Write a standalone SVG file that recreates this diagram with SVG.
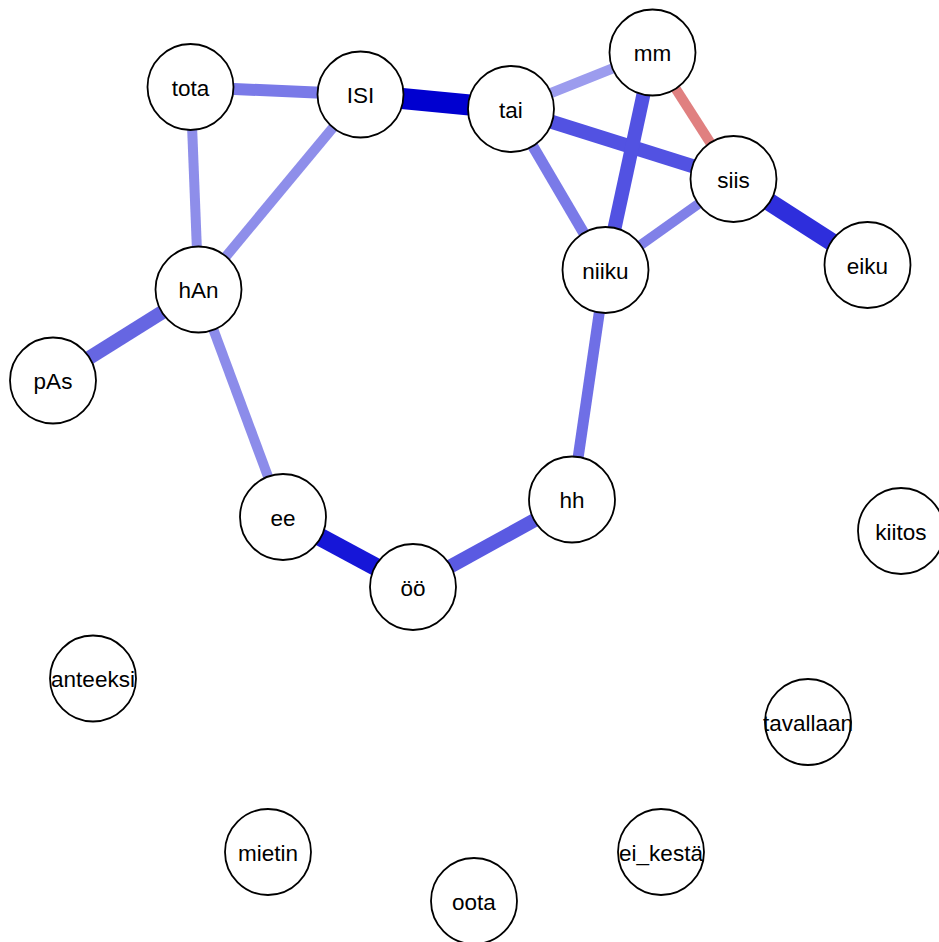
<svg xmlns="http://www.w3.org/2000/svg" width="939" height="942" viewBox="0 0 939 942">
  <style>
    .edge { fill: none; stroke-linecap: butt; }
    .node circle { fill: #ffffff; stroke: #000000; stroke-width: 1.8; }
    .node text { font-family: "Liberation Sans", Arial, sans-serif; font-size: 22.5px; fill: #000000; text-anchor: middle; dominant-baseline: central; }
  </style>
  <rect width="939" height="942" fill="#ffffff"/>
  <g id="edges">
    <line class="edge" x1="190.5" y1="87" x2="360.5" y2="94.5" stroke="#7a7ae8" stroke-width="12"/>
    <line class="edge" x1="190.5" y1="87" x2="198.5" y2="289.5" stroke="#8e8eea" stroke-width="10"/>
    <line class="edge" x1="360.5" y1="94.5" x2="198.5" y2="289.5" stroke="#8e8eea" stroke-width="10"/>
    <line class="edge" x1="360.5" y1="94.5" x2="511" y2="109" stroke="#0000d0" stroke-width="21"/>
    <line class="edge" x1="511" y1="109" x2="652.5" y2="52.5" stroke="#9c9cee" stroke-width="10"/>
    <line class="edge" x1="511" y1="109" x2="733.5" y2="179" stroke="#5252e2" stroke-width="14"/>
    <line class="edge" x1="511" y1="109" x2="605.5" y2="270" stroke="#7a7ae8" stroke-width="11"/>
    <line class="edge" x1="652.5" y1="52.5" x2="605.5" y2="270" stroke="#5252e2" stroke-width="14"/>
    <line class="edge" x1="652.5" y1="52.5" x2="733.5" y2="179" stroke="#e08080" stroke-width="10"/>
    <line class="edge" x1="733.5" y1="179" x2="605.5" y2="270" stroke="#8080e8" stroke-width="10"/>
    <line class="edge" x1="733.5" y1="179" x2="867.5" y2="265" stroke="#2e2edc" stroke-width="18"/>
    <line class="edge" x1="198.5" y1="289.5" x2="53" y2="380.5" stroke="#6666e2" stroke-width="14"/>
    <line class="edge" x1="198.5" y1="289.5" x2="283" y2="517" stroke="#8c8cea" stroke-width="10"/>
    <line class="edge" x1="605.5" y1="270" x2="572" y2="499.5" stroke="#6f6fe6" stroke-width="11"/>
    <line class="edge" x1="283" y1="517" x2="413" y2="587" stroke="#1616d8" stroke-width="18"/>
    <line class="edge" x1="413" y1="587" x2="572" y2="499.5" stroke="#5a5ae2" stroke-width="14"/>
  </g>
  <g id="node-tota" class="node"><circle cx="190.5" cy="87" r="43"/><text x="190.5" y="88">tota</text></g>
  <g id="node-ISI" class="node"><circle cx="360.5" cy="94.5" r="43"/><text x="360.5" y="95.5">ISI</text></g>
  <g id="node-tai" class="node"><circle cx="511" cy="109" r="43"/><text x="511" y="110">tai</text></g>
  <g id="node-mm" class="node"><circle cx="652.5" cy="52.5" r="43"/><text x="652.5" y="53.5">mm</text></g>
  <g id="node-siis" class="node"><circle cx="733.5" cy="179" r="43"/><text x="733.5" y="180">siis</text></g>
  <g id="node-eiku" class="node"><circle cx="867.5" cy="265" r="43"/><text x="867.5" y="266">eiku</text></g>
  <g id="node-niiku" class="node"><circle cx="605.5" cy="270" r="43"/><text x="605.5" y="271">niiku</text></g>
  <g id="node-hAn" class="node"><circle cx="198.5" cy="289.5" r="43"/><text x="198.5" y="290.5">hAn</text></g>
  <g id="node-pAs" class="node"><circle cx="53" cy="380.5" r="43"/><text x="53" y="381.5">pAs</text></g>
  <g id="node-ee" class="node"><circle cx="283" cy="517" r="43"/><text x="283" y="518">ee</text></g>
  <g id="node-oo" class="node"><circle cx="413" cy="587" r="43"/><text x="413" y="588">öö</text></g>
  <g id="node-hh" class="node"><circle cx="572" cy="499.5" r="43"/><text x="572" y="500.5">hh</text></g>
  <g id="node-kiitos" class="node"><circle cx="901" cy="531" r="43"/><text x="901" y="532">kiitos</text></g>
  <g id="node-anteeksi" class="node"><circle cx="93" cy="678.5" r="43"/><text x="93" y="679.5">anteeksi</text></g>
  <g id="node-tavallaan" class="node"><circle cx="808" cy="722" r="43"/><text x="808" y="723">tavallaan</text></g>
  <g id="node-mietin" class="node"><circle cx="268" cy="852" r="43"/><text x="268" y="853">mietin</text></g>
  <g id="node-ei_kesta" class="node"><circle cx="661" cy="852" r="43"/><text x="661" y="853">ei_kestä</text></g>
  <g id="node-oota" class="node"><circle cx="474" cy="901" r="43"/><text x="474" y="902">oota</text></g>
</svg>
